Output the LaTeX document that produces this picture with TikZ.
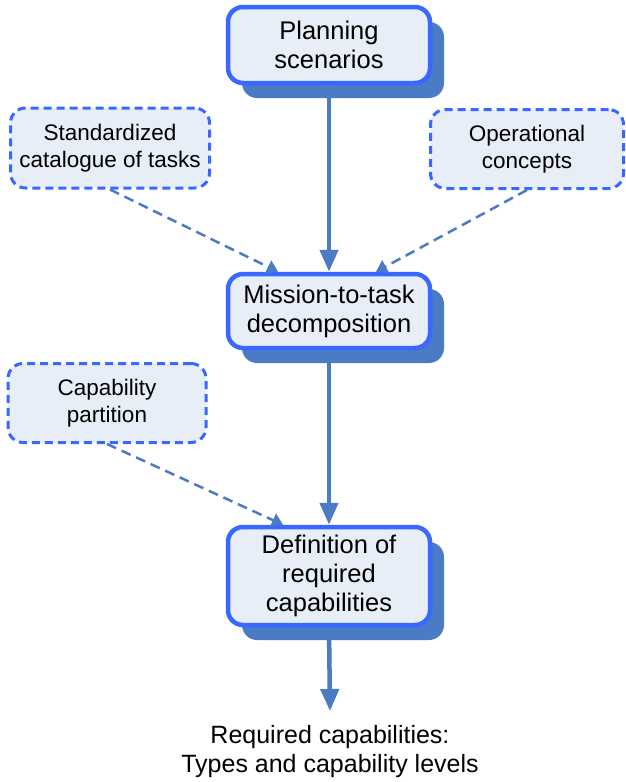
\documentclass[tikz,border=0pt]{standalone}
\usepackage{fontspec}
\setmainfont{Liberation Sans}
\usetikzlibrary{arrows.meta,shadows,calc}
\definecolor{bordblue}{RGB}{56,104,255}
\definecolor{boxfill}{RGB}{232,238,248}
\definecolor{steel}{RGB}{74,123,196}
\tikzset{
  mainbox/.style={draw=bordblue, line width=4.5pt, fill=boxfill, rounded corners=15pt,
    minimum width=202pt, align=center, inner sep=0pt,
    font=\fontsize{25.5}{29}\selectfont,
    drop shadow={shadow xshift=14pt, shadow yshift=-15pt, fill=steel, opacity=1}},
  inbox/.style={draw=bordblue, line width=3pt, dash pattern=on 8pt off 5pt, fill=boxfill,
    rounded corners=15pt, align=center, inner sep=0pt,
    font=\fontsize{22.5}{27}\selectfont},
  mainarrow/.style={draw=steel, line width=4.5pt, -{Triangle[length=22pt,width=18pt]}},
  inarrow/.style={draw=steel, line width=2.5pt, dash pattern=on 10pt off 6pt,
    -{Triangle[length=11pt,width=14pt]}},
  plaintext/.style={align=center, font=\fontsize{25}{29}\selectfont, inner sep=0pt}
}
\begin{document}
\begin{tikzpicture}[x=1pt,y=-1pt]
\useasboundingbox (0,0) rectangle (626,782);
\node[mainbox, minimum height=76pt] (ps) at (329,45) {Planning\\scenarios};
\node[mainbox, minimum height=74pt] (mt) at (329,311) {Mission-to-task\\decomposition};
\node[mainbox, minimum height=98pt] (dc) at (329,576) {Definition of\\required\\capabilities};
\node[inbox, minimum width=199pt, minimum height=80pt] (sc) at (110,148) {Standardized\\catalogue of tasks};
\node[inbox, minimum width=193pt, minimum height=79pt] (oc) at (527,149) {Operational\\concepts};
\node[inbox, minimum width=198pt, minimum height=79pt] (cp) at (107,403) {Capability\\partition};
\node[plaintext] (rc) at (330,752) {Required capabilities:\\Types and capability levels};
\coordinate (rctop) at (330,711);
\draw[mainarrow] (ps.south) -- (mt.north);
\draw[mainarrow] (mt.south) -- (dc.north);
\draw[mainarrow] (dc.south) -- (rctop);
\draw[inarrow] (sc.south) -- ([xshift=-51pt]mt.north);
\draw[inarrow] (oc.south) -- ([xshift=47pt]mt.north);
\draw[inarrow] (cp.south) -- ([xshift=-46pt]dc.north);
\end{tikzpicture}
\end{document}
